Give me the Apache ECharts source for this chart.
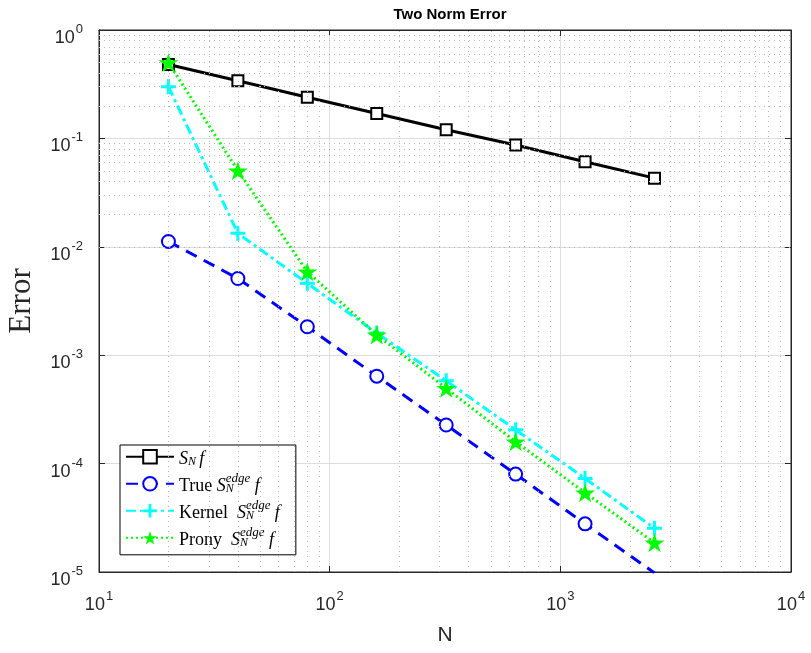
<!DOCTYPE html>
<html>
<head>
<meta charset="utf-8">
<script src="https://cdn.jsdelivr.net/npm/echarts@6/dist/echarts.min.js"></script>
<style>html,body{margin:0;padding:0;background:#fff;}#c{width:811px;height:653px;}</style>
</head>
<body>
<div id="c"></div>
<script>
const N = [20, 40, 80, 160, 320, 640, 1280, 2560];
const SN = [0.48, 0.34, 0.24, 0.17, 0.12, 0.087, 0.061, 0.043];
const trueEdge = [0.0112, 0.0051, 0.00183, 0.00064, 0.000227, 0.00008, 0.0000278, 0.0000098];
const kernelEdge = [0.30, 0.0133, 0.0046, 0.0016, 0.00058, 0.000205, 0.000073, 0.0000253];
const pronyEdge = [0.50, 0.0504, 0.0059, 0.00154, 0.000495, 0.000159, 0.0000539, 0.0000186];
const xDecades = [1, 2, 3];
const yDecades = [-5, -4, -3, -2, -1];

const pair = (xs, ys) => xs.map((x, i) => [x, ys[i]]);
const minorX = [], minorY = [];
xDecades.forEach(e => { for (let m = 2; m <= 9; m++) minorX.push({ xAxis: m * Math.pow(10, e) }); });
yDecades.forEach(e => { for (let m = 2; m <= 9; m++) minorY.push({ yAxis: m * Math.pow(10, e) }); });

const font = 'Liberation Sans, Arial, Helvetica, sans-serif';
const serif = 'Liberation Serif, DejaVu Serif, serif';
const labelRich = {
  b: { fontSize: 18, fontFamily: font, color: '#262626', lineHeight: 18, verticalAlign: 'bottom' },
  s: { fontSize: 13, fontFamily: font, color: '#262626', lineHeight: 13, verticalAlign: 'bottom', padding: [0, 0, 11, 1] }
};
const powLabel = v => '{b|10}{s|' + Math.round(Math.log10(v)) + '}';

const starPath = 'path://M50,0L61.2,34.5L97.6,34.5L68.2,55.9L79.4,90.5L50,69.1L20.6,90.5L31.8,55.9L2.4,34.5L38.8,34.5Z';
const plusPath = 'path://M40,0H60V40H100V60H60V100H40V60H0V40H40Z';

const legendRich = {
  t: { fontSize: 18, fontFamily: serif, color: '#000', lineHeight: 22, verticalAlign: 'bottom' },
  i: { fontSize: 18, fontFamily: serif, fontStyle: 'italic', color: '#000', lineHeight: 22, verticalAlign: 'bottom' },
  sub: { fontSize: 12, fontFamily: serif, fontStyle: 'italic', color: '#000', lineHeight: 12, verticalAlign: 'bottom', padding: [0, 0, 0, 0] },
  sup: { fontSize: 13, fontFamily: serif, fontStyle: 'italic', color: '#000', lineHeight: 13, verticalAlign: 'bottom', padding: [0, 1, 10, -8] }
};
const legendText = {
  'SN': '{i|S}{sub|N} {i|f}',
  'True': '{t|True }{i|S}{sub|N}{sup|edge} {i|f}',
  'Kernel': '{t|Kernel  }{i|S}{sub|N}{sup|edge} {i|f}',
  'Prony': '{t|Prony  }{i|S}{sub|N}{sup|edge} {i|f}'
};

const chart = echarts.init(document.getElementById('c'), null, { renderer: 'canvas' });
chart.setOption({
  animation: false,
  backgroundColor: '#fff',
  title: {
    text: 'Two Norm Error', left: 445, top: 2, textAlign: 'center',
    textStyle: { fontSize: 15, fontWeight: 'bold', fontFamily: font, color: '#000' }
  },
  grid: {
    left: 99, top: 30, right: 20, bottom: 81, outerBoundsMode: 'none', containLabel: false,
    show: true, borderColor: '#262626', borderWidth: 1, backgroundColor: '#fff'
  },
  legend: {
    data: ['SN', 'True', 'Kernel', 'Prony'],
    orient: 'vertical', left: 120, top: 445,
    itemWidth: 48, itemHeight: 17, itemGap: 4,
    backgroundColor: '#fff', borderColor: '#000', borderWidth: 1, borderRadius: 0,
    padding: [4, 16, 6, 5],
    formatter: n => legendText[n],
    textStyle: { rich: legendRich }
  },
  xAxis: [{
    type: 'log', logBase: 10, min: 10, max: 10000,
    name: 'N', nameLocation: 'middle', nameGap: 53,
    nameTextStyle: { fontSize: 21, fontFamily: font, color: '#262626' },
    axisLine: { show: true, lineStyle: { color: '#262626', width: 1 } },
    axisTick: { show: true, inside: true, length: 6, lineStyle: { color: '#262626' } },
    axisLabel: { margin: 24, formatter: powLabel, rich: labelRich },
    splitLine: { show: true, lineStyle: { color: '#dedede', width: 1 } }
  }, {
    type: 'log', logBase: 10, min: 10, max: 10000, position: 'top',
    axisLine: { show: true, lineStyle: { color: '#262626', width: 1 } },
    axisTick: { show: true, inside: true, length: 6, lineStyle: { color: '#262626' } },
    axisLabel: { show: false }, splitLine: { show: false }
  }],
  yAxis: [{
    type: 'log', logBase: 10, min: 0.00001, max: 1,
    name: 'Error', nameLocation: 'middle', nameGap: 62, nameRotate: 90,
    nameTextStyle: { fontSize: 31, fontFamily: serif, color: '#262626' },
    axisLine: { show: true, lineStyle: { color: '#262626', width: 1 } },
    axisTick: { show: true, inside: true, length: 6, lineStyle: { color: '#262626' } },
    axisLabel: { margin: 16, padding: [16, 0, 0, 0], formatter: powLabel, rich: labelRich },
    splitLine: { show: true, lineStyle: { color: '#dedede', width: 1 } }
  }, {
    type: 'log', logBase: 10, min: 0.00001, max: 1, position: 'right',
    axisLine: { show: true, lineStyle: { color: '#262626', width: 1 } },
    axisTick: { show: true, inside: true, length: 6, lineStyle: { color: '#262626' } },
    axisLabel: { show: false }, splitLine: { show: false }
  }],
  series: [
    {
      name: 'minor', type: 'line', data: [], silent: true, z: 1,
      markLine: {
        silent: true, symbol: 'none', label: { show: false }, animation: false,
        lineStyle: { color: '#b8b8b8', width: 1, type: [1, 4] },
        data: minorX.concat(minorY)
      }
    },
    {
      name: 'SN', type: 'line', data: pair(N, SN), z: 3,
      symbol: 'emptyRect', symbolSize: 11,
      lineStyle: { color: '#000', width: 3, type: 'solid' },
      itemStyle: { color: '#000', borderColor: '#000', borderWidth: 1.5 }
    },
    {
      name: 'True', type: 'line', data: pair(N, trueEdge), z: 3,
      symbol: 'emptyCircle', symbolSize: 13,
      lineStyle: { color: '#0000ff', width: 3, type: [12, 8] },
      itemStyle: { color: '#0000ff', borderColor: '#0000ff', borderWidth: 2.5 }
    },
    {
      name: 'Kernel', type: 'line', data: pair(N, kernelEdge), z: 4,
      symbol: plusPath, symbolSize: 15,
      lineStyle: { color: '#00ffff', width: 3, type: [10, 4, 3, 4] },
      itemStyle: { color: '#00ffff', borderWidth: 0 }
    },
    {
      name: 'Prony', type: 'line', data: pair(N, pronyEdge), z: 5,
      symbol: starPath, symbolSize: 20, symbolKeepAspect: true,
      lineStyle: { color: '#00ff00', width: 3, type: [2, 3] },
      itemStyle: { color: '#00ff00', borderWidth: 0 }
    }
  ]
});
</script>
</body>
</html>
